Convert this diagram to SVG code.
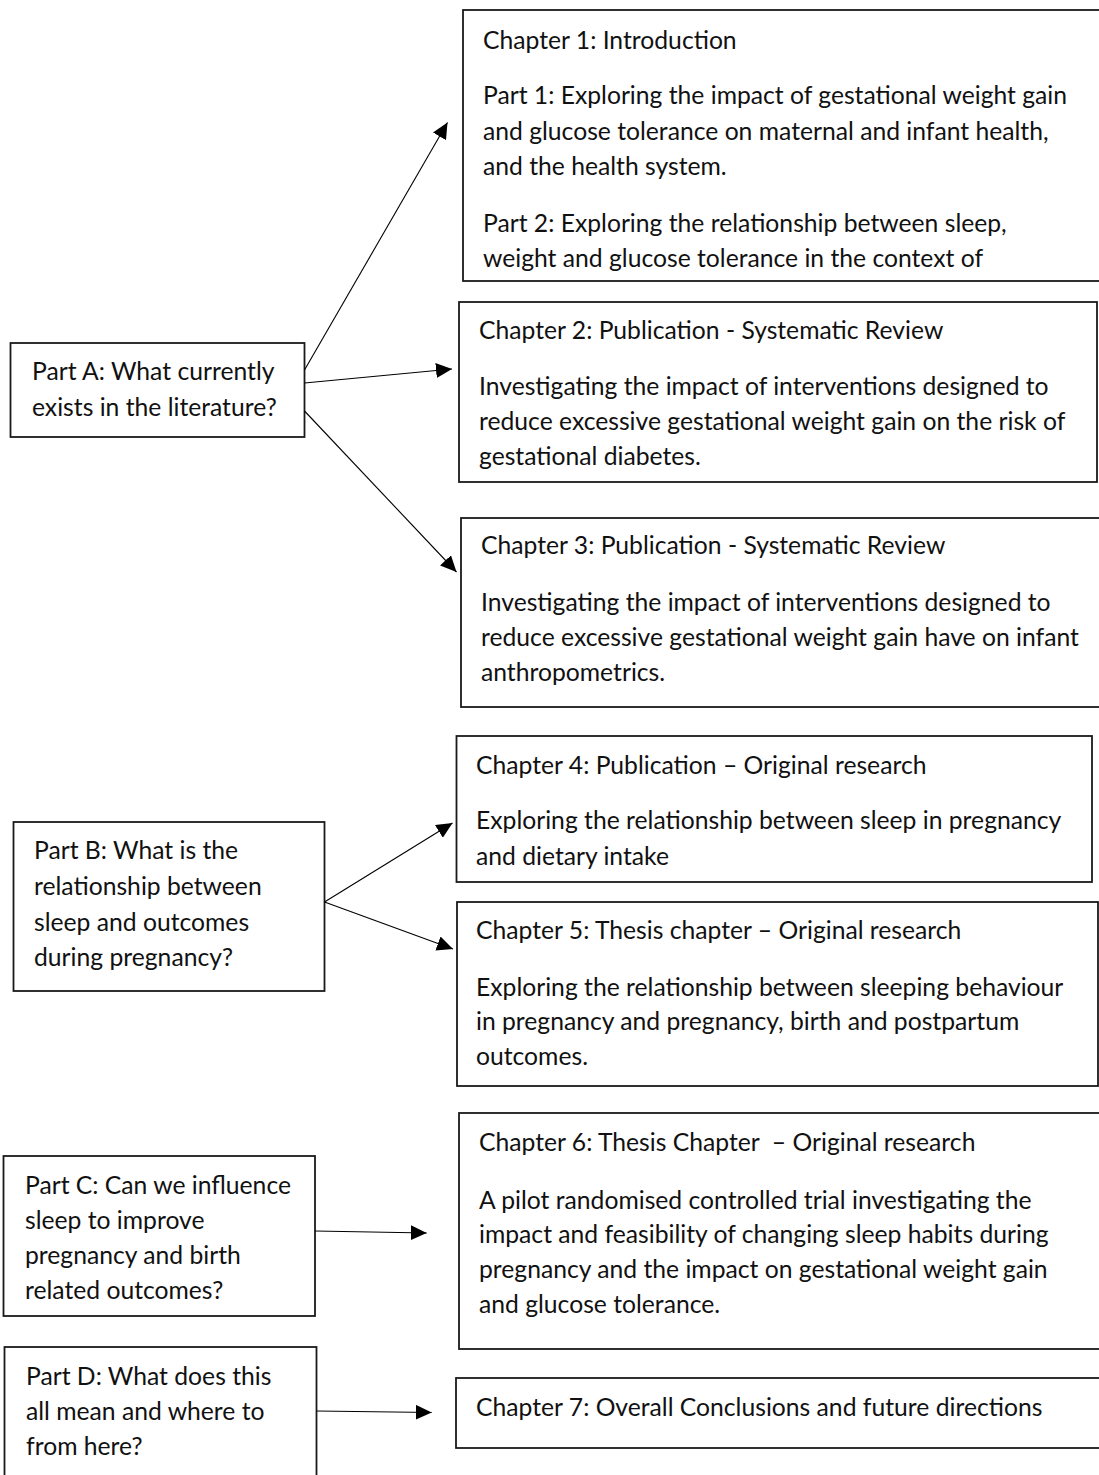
<svg xmlns="http://www.w3.org/2000/svg" width="1099" height="1475" viewBox="0 0 1099 1475">
<defs>
<style>
.box{fill:#fff;stroke:#1a1a1a;stroke-width:1.8}
.t{font-family:Lato,"Liberation Sans",sans-serif;font-size:24.7px;fill:#111}
.c{stroke:#000;stroke-width:1.1;fill:none;marker-end:url(#ah)}
</style>
<marker id="ah" markerUnits="userSpaceOnUse" markerWidth="17" markerHeight="15" refX="16" refY="7.5" orient="auto" viewBox="0 0 17 15">
<path d="M0,0 L16,7.5 L0,15 z" fill="#000"/>
</marker>
</defs>
<rect width="1099" height="1475" fill="#fff"/>
<g id="partA">
<rect class="box" x="10.5" y="343" width="294" height="94"/>
<text class="t" x="32" y="379.5">Part A: What currently</text>
<text class="t" x="32" y="415.5">exists in the literature?</text>
</g>
<g id="ch1">
<rect class="box" x="463" y="10" width="645" height="271"/>
<text class="t" x="483" y="48.5">Chapter 1: Introduction</text>
<text class="t" x="483" y="103.5">Part 1: Exploring the impact of gestational weight gain</text>
<text class="t" x="483" y="139.5">and glucose tolerance on maternal and infant health,</text>
<text class="t" x="483" y="174.5">and the health system.</text>
<text class="t" x="483" y="231.5">Part 2: Exploring the relationship between sleep,</text>
<text class="t" x="483" y="266.5">weight and glucose tolerance in the context of</text>
</g>
<g id="ch2">
<rect class="box" x="459" y="302" width="638" height="180"/>
<text class="t" x="479" y="338.5">Chapter 2: Publication - Systematic Review</text>
<text class="t" x="479" y="394.5">Investigating the impact of interventions designed to</text>
<text class="t" x="479" y="429.5">reduce excessive gestational weight gain on the risk of</text>
<text class="t" x="479" y="464.5">gestational diabetes.</text>
</g>
<g id="ch3">
<rect class="box" x="461" y="518" width="647" height="189"/>
<text class="t" x="481" y="553.5">Chapter 3: Publication - Systematic Review</text>
<text class="t" x="481" y="610.5">Investigating the impact of interventions designed to</text>
<text class="t" x="481" y="645.5">reduce excessive gestational weight gain have on infant</text>
<text class="t" x="481" y="680.5">anthropometrics.</text>
</g>
<g id="partB">
<rect class="box" x="13.5" y="822" width="311" height="169"/>
<text class="t" x="34" y="858.5">Part B: What is the</text>
<text class="t" x="34" y="894.5">relationship between</text>
<text class="t" x="34" y="930.5">sleep and outcomes</text>
<text class="t" x="34" y="965.5">during pregnancy?</text>
</g>
<g id="ch4">
<rect class="box" x="456.5" y="736" width="635.5" height="146"/>
<text class="t" x="476" y="773.5">Chapter 4: Publication – Original research</text>
<text class="t" x="476" y="828.5">Exploring the relationship between sleep in pregnancy</text>
<text class="t" x="476" y="864.5">and dietary intake</text>
</g>
<g id="ch5">
<rect class="box" x="457" y="902" width="641" height="184"/>
<text class="t" x="476" y="938.5">Chapter 5: Thesis chapter – Original research</text>
<text class="t" x="476" y="995.5">Exploring the relationship between sleeping behaviour</text>
<text class="t" x="476" y="1029.5">in pregnancy and pregnancy, birth and postpartum</text>
<text class="t" x="476" y="1064.5">outcomes.</text>
</g>
<g id="partC">
<rect class="box" x="3.5" y="1156" width="311.5" height="160"/>
<text class="t" x="25" y="1193.5">Part C: Can we influence</text>
<text class="t" x="25" y="1228.5">sleep to improve</text>
<text class="t" x="25" y="1263.5">pregnancy and birth</text>
<text class="t" x="25" y="1298.5">related outcomes?</text>
</g>
<g id="ch6">
<rect class="box" x="459" y="1113" width="649" height="236"/>
<text class="t" x="479" y="1150.5" xml:space="preserve">Chapter 6: Thesis Chapter  – Original research</text>
<text class="t" x="479" y="1208.5">A pilot randomised controlled trial investigating the</text>
<text class="t" x="479" y="1242.5">impact and feasibility of changing sleep habits during</text>
<text class="t" x="479" y="1277.5">pregnancy and the impact on gestational weight gain</text>
<text class="t" x="479" y="1312.5">and glucose tolerance.</text>
</g>
<g id="partD">
<rect class="box" x="4.5" y="1347" width="312" height="140"/>
<text class="t" x="26" y="1384.5">Part D: What does this</text>
<text class="t" x="26" y="1419.5">all mean and where to</text>
<text class="t" x="26" y="1454.5">from here?</text>
</g>
<g id="ch7">
<rect class="box" x="456" y="1378" width="652" height="70"/>
<text class="t" x="476" y="1415.5">Chapter 7: Overall Conclusions and future directions</text>
</g>
<g id="connectors">
<line class="c" x1="304.5" y1="370" x2="447.5" y2="122.5"/>
<line class="c" x1="304.5" y1="383" x2="452" y2="369"/>
<line class="c" x1="304.5" y1="411" x2="456.5" y2="572"/>
<line class="c" x1="324.5" y1="902" x2="452.5" y2="823"/>
<line class="c" x1="324.5" y1="902" x2="453" y2="949"/>
<line class="c" x1="315" y1="1231" x2="426.7" y2="1233"/>
<line class="c" x1="316.7" y1="1411" x2="431.7" y2="1412.5"/>
</g>
</svg>
